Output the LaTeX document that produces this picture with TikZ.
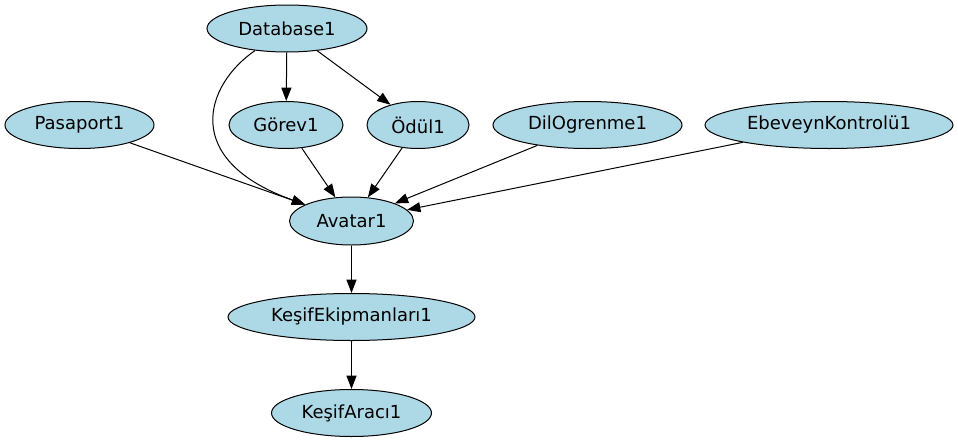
\documentclass[tikz,border=0pt]{standalone}
\usepackage{fontspec}
\setmainfont{DejaVu Sans}
\usetikzlibrary{shapes.geometric,arrows.meta}
\definecolor{lightblue}{HTML}{ADD8E6}
\tikzset{
  ent/.style={ellipse, draw=black, line width=0.75pt, fill=lightblue, inner sep=0pt,
    minimum height=35.25pt, font=\fontsize{13.5pt}{16pt}\selectfont},
  arr/.style={draw=black, line width=0.75pt, -{Triangle[length=10pt,width=7.5pt]}}
}
\begin{document}
\begin{tikzpicture}[x=0.75pt,y=-0.75pt]
\useasboundingbox (0,0) rectangle (958,443);
\node[ent, minimum width=120pt] (db) at (287,28.5) {Database1};
\node[ent, minimum width=111.75pt] (pas) at (79.5,125) {Pasaport1};
\node[ent, minimum width=85.5pt] (gor) at (286,125) {Görev1};
\node[ent, minimum width=76.5pt] (odul) at (418,125) {Ödül1};
\node[ent, minimum width=141.75pt] (dil) at (587.5,125) {DilOgrenme1};
\node[ent, minimum width=186pt] (ebe) at (829,125) {EbeveynKontrolü1};
\node[ent, minimum width=93pt, minimum height=36pt] (av) at (351.5,221) {Avatar1};
\node[ent, minimum width=185.25pt] (kek) at (351.5,317) {KeşifEkipmanları1};
\node[ent, minimum width=120pt] (ka) at (351.5,413) {KeşifAracı1};
\draw[arr] (db) -- (gor);
\draw[arr] (db) -- (odul);
\draw[arr] (db) .. controls (205,85) and (180,160) .. (av);
\draw[arr] (pas) -- (av);
\draw[arr] (gor) -- (av);
\draw[arr] (odul) -- (av);
\draw[arr] (dil) -- (av);
\draw[arr] (ebe) -- (av);
\draw[arr] (av) -- (kek);
\draw[arr] (kek) -- (ka);
\end{tikzpicture}
\end{document}
